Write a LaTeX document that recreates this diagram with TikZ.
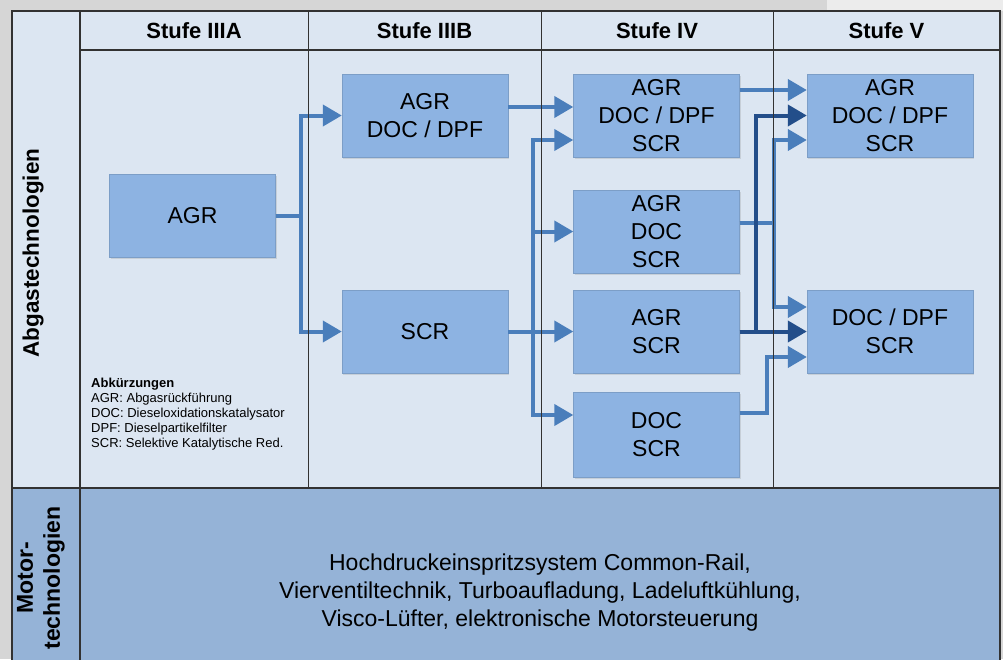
\documentclass[tikz,border=0pt]{standalone}
\usepackage{fontspec}
\setmainfont{Liberation Sans}
\usetikzlibrary{arrows.meta,shadows,calc}
\definecolor{bggray}{RGB}{214,214,214}
\definecolor{bglight}{RGB}{236,236,236}
\definecolor{cellbg}{RGB}{220,230,242}
\definecolor{boxfill}{RGB}{141,179,226}
\definecolor{motorfill}{RGB}{149,179,215}
\definecolor{arrlight}{RGB}{74,126,187}
\definecolor{arrdark}{RGB}{35,78,138}
\definecolor{gridline}{RGB}{50,50,50}
\begin{document}
\begin{tikzpicture}[x=1pt,y=-1pt,
  techbox/.style={draw=boxfill!88!black, line width=0.4pt, fill=boxfill,
    minimum width=166pt, minimum height=83pt, inner sep=0pt, align=center,
    font=\fontsize{23}{28}\selectfont,
    drop shadow={opacity=0.22,shadow xshift=1.2pt,shadow yshift=-1.5pt}},
  flow/.style={draw=arrlight, line width=4pt, -{Triangle[length=19pt,width=21pt]}},
  flowdark/.style={flow, draw=arrdark},
  headtext/.style={font=\fontsize{22}{26}\selectfont\bfseries, inner sep=0pt},
  rowlabel/.style={font=\fontsize{23}{27}\selectfont\bfseries, rotate=90, align=center, inner sep=0pt},
  gridthin/.style={draw=gridline, line width=1pt},
  gridthick/.style={draw=gridline, line width=1.6pt}
]
\useasboundingbox (0,0) rectangle (1003,659);
\clip (0,0) rectangle (1003,659);
% background
\fill[bggray] (0,0) rectangle (1003,659);
\fill[bglight] (827,0) rectangle (1003,11);
% table cells
\fill[cellbg] (12,11) rectangle (1000,488);
\fill[motorfill] (12,488) rectangle (1000,670);

% headers
\node[headtext] (h1) at (194,31) {Stufe IIIA};
\node[headtext] (h2) at (424.5,31) {Stufe IIIB};
\node[headtext] (h3) at (657,31) {Stufe IV};
\node[headtext] (h4) at (886.5,31) {Stufe V};

% row labels
\node[rowlabel, font=\fontsize{22.5}{25}\selectfont\bfseries] (lab1) at (33,253) {Abgastechnologien};
\node[rowlabel] (lab2) at (41,578) {Motor-\\technologien};

% boxes
\node[techbox] (a3) at (192.5,215.5) {AGR};
\node[techbox] (b1) at (425,115.5) {AGR\\DOC / DPF};
\node[techbox] (b2) at (425,331.5) {SCR};
\node[techbox] (c1) at (656.5,115.5) {AGR\\DOC / DPF\\SCR};
\node[techbox] (c2) at (656.5,231.5) {AGR\\DOC\\SCR};
\node[techbox] (c3) at (656.5,331.5) {AGR\\SCR};
\node[techbox, minimum height=85pt] (c4) at (656.5,434.5) {DOC\\SCR};
\node[techbox] (d1) at (890,115.5) {AGR\\DOC / DPF\\SCR};
\node[techbox] (d2) at (890,331.5) {DOC / DPF\\SCR};

% abbreviations
\node[anchor=north west, inner sep=0pt, align=left, font=\fontsize{13}{15}\selectfont] (abk) at (91,378)
  {\textbf{Abkürzungen}\\AGR: Abgasrückführung\\DOC: Dieseloxidationskatalysator\\DPF: Dieselpartikelfilter\\SCR: Selektive Katalytische Red.};

% motor technologies
\node[align=center, inner sep=0pt, font=\fontsize{23}{28}\selectfont] (mt) at (540,593)
  {Hochdruckeinspritzsystem Common-Rail,\\Vierventiltechnik, Turboaufladung, Ladeluftkühlung,\\Visco-Lüfter, elektronische Motorsteuerung};

% connectors IIIA -> IIIB
\draw[flow] (a3.east) -- ++(25,0) |- (b1.west);
\draw[flow] (a3.east) -- ++(25,0) |- (b2.west);
% IIIB -> IV
\draw[flow] ($(b1.east)+(0,-8.5)$) -- ($(c1.west)+(0,-8.5)$);
\draw[flow] (b2.east) -- ++(25,0) |- ($(c1.west)+(0,24.5)$);
\draw[flow] (b2.east) -- ++(25,0) |- (c2.west);
\draw[flow] (b2.east) -- ++(25,0) |- ($(c4.west)+(0,-19.5)$);
\draw[flow] (b2.east) -- (c3.west);
% IV -> V
\draw[flow] ($(c1.east)+(0,-25.5)$) -- ($(d1.west)+(0,-25.5)$);
\draw[flow] ($(c2.east)+(0,-8.5)$) -- ++(34,0) |- ($(d1.west)+(0,24.5)$);
\draw[flow] ($(c2.east)+(0,-8.5)$) -- ++(34,0) |- ($(d2.west)+(0,-24.5)$);
\draw[flow] ($(c4.east)+(0,-21.5)$) -- ++(27,0) |- ($(d2.west)+(0,25.5)$);
\draw[flowdark] (c3.east) -- (d2.west);
\draw[flowdark] (c3.east) -- ++(16,0) |- (d1.west);

% grid lines
\draw[gridthin] (308,11) -- (308,488);
\draw[gridthin] (541,11) -- (541,488);
\draw[gridthin] (773,11) -- (773,488);
\draw[gridthick] (80,50) -- (1000,50);
\draw[gridthick] (80,11) -- (80,670);
\draw[gridthick] (12,488) -- (1000,488);
\draw[gridthick] (12,670) -- (12,11) -- (1000,11) -- (1000,670);
\end{tikzpicture}
\end{document}
